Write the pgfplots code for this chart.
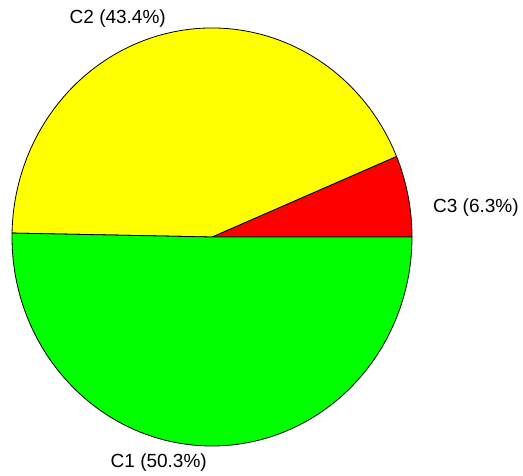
\documentclass[border=0pt]{standalone}
\usepackage{pgfplots}
\pgfplotsset{compat=1.18}
\usepackage{pgfplotstable}
\usepackage{fontspec}
\setmainfont{Liberation Sans}
\definecolor{piered}{RGB}{255,0,0}
\definecolor{pieyellow}{RGB}{255,255,0}
\definecolor{piegreen}{RGB}{0,255,0}

% slices in drawing order (counterclockwise from 0 degrees)
\pgfplotstableread{
label value
C3 6.3
C2 43.4
C1 50.3
}\piedata
\pgfplotstablegetelem{0}{value}\of\piedata \let\vA\pgfplotsretval
\pgfplotstablegetelem{1}{value}\of\piedata \let\vB\pgfplotsretval
\pgfplotstablegetelem{2}{value}\of\piedata \let\vC\pgfplotsretval
\pgfmathsetmacro\tot{\vA+\vB+\vC}
\pgfmathsetmacro\aA{360*\vA/\tot}
\pgfmathsetmacro\aB{\aA+360*\vB/\tot}

\begin{document}
\begin{tikzpicture}
\begin{axis}[
  scale only axis,
  width=523pt, height=475pt,
  xmin=0, xmax=523, ymin=0, ymax=475,
  hide axis, clip=false,
]
\filldraw[fill=piered, draw=black, line width=0.8pt]
  (axis cs:212,238) -- ++(0:200pt and 209pt)
  arc[start angle=0, end angle=\aA, x radius=200pt, y radius=209pt] -- cycle;
\filldraw[fill=pieyellow, draw=black, line width=0.8pt]
  (axis cs:212,238) -- ++(\aA:200pt and 209pt)
  arc[start angle=\aA, end angle=\aB, x radius=200pt, y radius=209pt] -- cycle;
\filldraw[fill=piegreen, draw=black, line width=0.8pt]
  (axis cs:212,238) -- ++(\aB:200pt and 209pt)
  arc[start angle=\aB, end angle=360, x radius=200pt, y radius=209pt] -- cycle;

\node[anchor=west, inner sep=0pt, font=\fontsize{19}{22}\selectfont]
  at (axis cs:433,267) {C3 (6.3\%)};
\node[anchor=east, inner sep=0pt, font=\fontsize{19}{22}\selectfont]
  at (axis cs:166,456) {C2 (43.4\%)};
\node[anchor=east, inner sep=0pt, font=\fontsize{19}{22}\selectfont]
  at (axis cs:207,12) {C1 (50.3\%)};
\end{axis}
\pgfresetboundingbox
\path (0,0) rectangle (523pt,475pt);
\end{tikzpicture}
\end{document}
